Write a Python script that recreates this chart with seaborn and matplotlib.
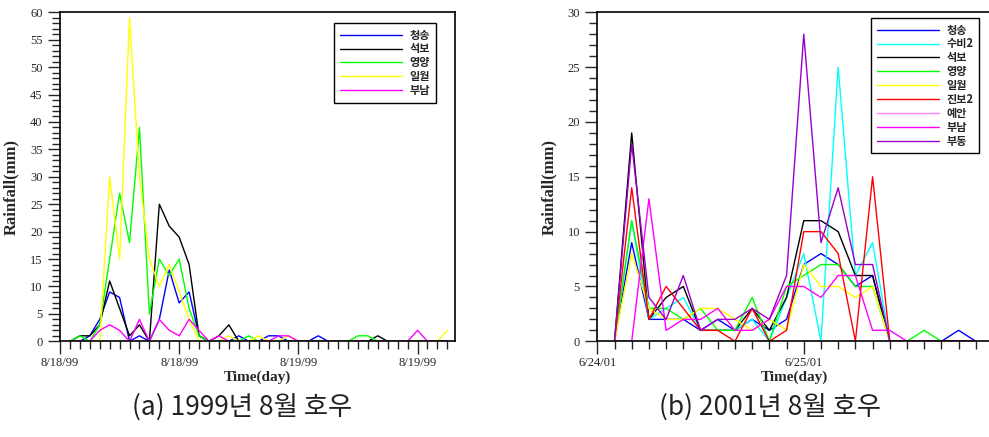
import matplotlib
matplotlib.use("Agg")
import matplotlib.pyplot as plt
import seaborn as sns
import pandas as pd
from matplotlib.ticker import MultipleLocator, FixedLocator
from matplotlib.font_manager import FontProperties

sns.set_style("ticks")
plt.rcParams['font.family'] = ['Liberation Serif', 'Noto Sans CJK KR']

# (a) 1999년 8월 호우 - 시간별 강우량 (1~39시)
hours_99 = list(range(1, 40))
stations_99 = ["청송", "석보", "영양", "일월", "부남"]
rain_99_cheongsong = [0, 0, 1, 4, 9, 8, 0, 1, 0, 4, 13, 7, 9, 1, 0, 0, 0, 1, 0, 0,
                      1, 1, 0, 0, 0, 1, 0, 0, 0, 0, 0, 0, 0, 0, 0, 0, 0, 0, 0]
rain_99_seokbo = [0, 1, 1, 3, 11, 6, 1, 3, 0, 25, 21, 19, 14, 1, 0, 1, 3, 0, 0, 0,
                  0, 0, 0, 0, 0, 0, 0, 0, 0, 0, 0, 1, 0, 0, 0, 0, 0, 0, 0]
rain_99_yeongyang = [0, 1, 0, 3, 15, 27, 18, 39, 5, 15, 12, 15, 6, 1, 0, 0, 0, 0, 1, 0,
                     0, 0, 0, 0, 0, 0, 0, 0, 0, 1, 1, 0, 0, 0, 0, 0, 0, 0, 0]
rain_99_irwol = [0, 0, 0, 0, 30, 15, 59, 30, 15, 10, 14, 9, 4, 0, 0, 0, 1, 0, 0, 1,
                 0, 0, 1, 0, 0, 0, 0, 0, 0, 0, 0, 0, 0, 0, 0, 0, 0, 0, 2]
rain_99_bunam = [0, 0, 0, 2, 3, 2, 0, 4, 0, 4, 2, 1, 4, 2, 0, 1, 0, 0, 0, 0,
                 0, 1, 1, 0, 0, 0, 0, 0, 0, 0, 0, 0, 0, 0, 0, 2, 0, 0, 0]
colors_99 = ["#0000FF", "#000000", "#00FF00", "#FFFF00", "#FF00FF"]

# (b) 2001년 8월 호우 (1~22 구간)
hours_01 = list(range(1, 23))
stations_01 = ["청송", "수비2", "석보", "영양", "일월", "진보2", "예안", "부남", "부동"]
rain_01_cheongsong = [0, 9, 2, 2, 2, 1, 2, 1, 2, 1, 2, 7, 8, 7, 5, 6, 0, 0, 0, 0, 1, 0]
rain_01_subi2 = [0, 11, 2, 3, 4, 1, 1, 1, 2, 0, 4, 8, 0, 25, 6, 9, 0, 0, 0, 0, 0, 0]
rain_01_seokbo = [0, 19, 2, 4, 5, 1, 1, 1, 3, 1, 4, 11, 11, 10, 6, 6, 0, 0, 0, 0, 0, 0]
rain_01_yeongyang = [0, 11, 3, 3, 2, 3, 1, 1, 4, 0, 5, 6, 7, 7, 5, 5, 0, 0, 1, 0, 0, 0]
rain_01_irwol = [0, 8, 3, 2, 2, 3, 3, 2, 1, 2, 1, 7, 5, 5, 4, 5, 0, 0, 0, 0, 0, 0]
rain_01_jinbo2 = [0, 14, 2, 5, 3, 1, 1, 0, 3, 0, 1, 10, 10, 8, 0, 15, 0, 0, 0, 0, 0, 0]
rain_01_yean = [0] * 22
rain_01_bunam = [0, 0, 13, 1, 2, 2, 3, 1, 1, 2, 5, 5, 4, 6, 6, 1, 1, 0, 0, 0, 0, 0]
rain_01_budong = [0, 18, 4, 2, 6, 1, 2, 2, 3, 2, 6, 28, 9, 14, 7, 7, 0, 0, 0, 0, 0, 0]
colors_01 = ["#0000FF", "#00FFFF", "#000000", "#00FF00", "#FFFF00", "#FF0000",
             "#FF80FF", "#FF00FF", "#9900CC"]

ticklabels_99 = ["8/18/99", "8/18/99", "8/19/99", "8/19/99"]
ticklabels_01 = ["6/24/01", "6/25/01"]


def long_table(hours, stations, series):
    frames = []
    for name, vals in zip(stations, series):
        frames.append(pd.DataFrame({"hour": hours, "rain": vals, "station": name}))
    return pd.concat(frames, ignore_index=True)


df_99 = long_table(hours_99, stations_99,
                   [rain_99_cheongsong, rain_99_seokbo, rain_99_yeongyang, rain_99_irwol, rain_99_bunam])
df_01 = long_table(hours_01, stations_01,
                   [rain_01_cheongsong, rain_01_subi2, rain_01_seokbo, rain_01_yeongyang, rain_01_irwol,
                    rain_01_jinbo2, rain_01_yean, rain_01_bunam, rain_01_budong])

fig = plt.figure(figsize=(9.89, 4.37), dpi=100)
W, H = 989.0, 437.0
ax1 = fig.add_axes([60 / W, (H - 341.3) / H, 395.3 / W, 329 / H])
ax2 = fig.add_axes([597.3 / W, (H - 341.3) / H, 394 / W, 329 / H])

legend_font = FontProperties(family="Noto Sans CJK KR", weight="bold", size=8)


def draw(ax, df, stations, colors, xmax, ymax, ticks, ticklabels, leg_xy):
    sns.lineplot(data=df, x="hour", y="rain", hue="station", hue_order=stations,
                 palette=dict(zip(stations, colors)), estimator=None, sort=False,
                 linewidth=1.0, ax=ax)
    ax.set_xlim(0, xmax)
    ax.set_ylim(0, ymax)
    ax.xaxis.set_major_locator(FixedLocator(ticks))
    ax.set_xticklabels(ticklabels)
    ax.xaxis.set_minor_locator(MultipleLocator(1))
    ax.yaxis.set_major_locator(MultipleLocator(5))
    ax.yaxis.set_minor_locator(MultipleLocator(1))
    ax.tick_params(which="major", length=9, width=1, direction="out", labelsize=9)
    ax.tick_params(which="minor", length=5.5, width=1, direction="out")
    ax.tick_params(axis="x", which="major", pad=2)
    for s in ax.spines.values():
        s.set_linewidth(1.2)
        s.set_color("black")
    ax.set_xlabel("Time(day)", fontsize=11, fontweight="bold")
    ax.set_ylabel("Rainfall(mm)", fontsize=12, fontweight="bold")
    ax.xaxis.set_label_coords(0.5, -0.09)
    ax.yaxis.set_label_coords(-0.103, 0.47)
    old = ax.get_legend()
    handles = old.legend_handles
    labels = [t.get_text() for t in old.get_texts()]
    old.remove()
    for h in handles:
        h.set_linewidth(1.0)
    leg = ax.legend(handles, labels, loc="upper left", bbox_to_anchor=(leg_xy[0] / W, 1 - leg_xy[1] / H),
                    bbox_transform=fig.transFigure, handlelength=5.6, handletextpad=0.7,
                    labelspacing=0.08, borderpad=0.5, borderaxespad=0, fancybox=False,
                    frameon=True, edgecolor="black", prop=legend_font)
    leg.get_frame().set_linewidth(1.0)
    leg.get_frame().set_alpha(1)


draw(ax1, df_99, stations_99, colors_99, 39.8, 60, [0, 12, 24, 36], ticklabels_99, (334, 23))
draw(ax2, df_01, stations_01, colors_01, 22.9, 30, [0, 12], ticklabels_01, (871, 18))

cap_font = FontProperties(family="Noto Sans CJK KR", size=19)
fig.text(242 / W, 1 - 407 / H, "(a) 1999년 8월 호우", ha="center", va="center",
         fontproperties=cap_font, color="#222222")
fig.text(770 / W, 1 - 407 / H, "(b) 2001년 8월 호우", ha="center", va="center",
         fontproperties=cap_font, color="#222222")

fig.savefig("out.png", dpi=100)
